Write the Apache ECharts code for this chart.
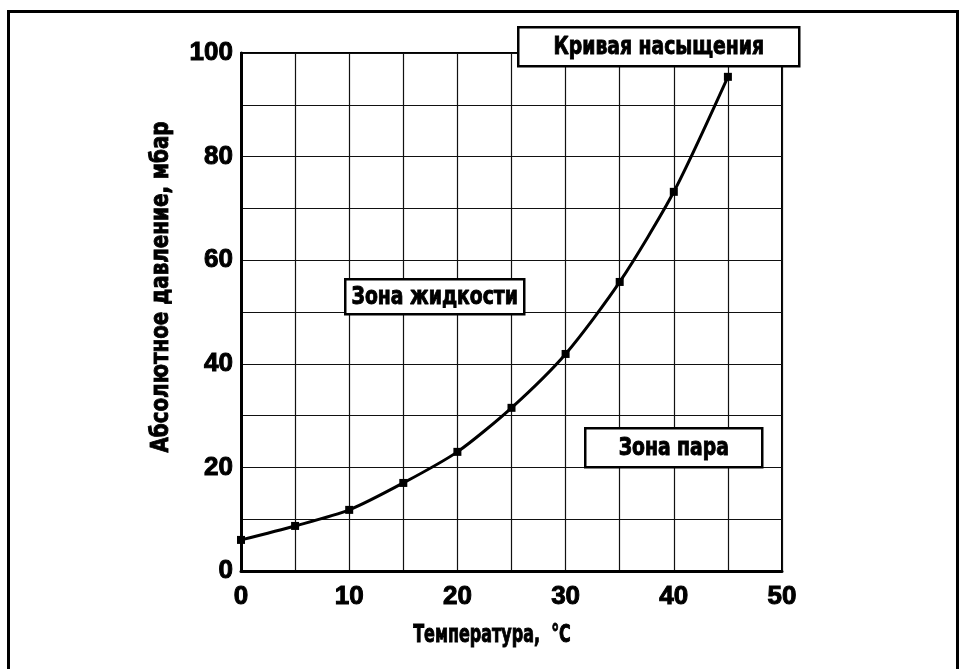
<!DOCTYPE html>
<html>
<head>
<meta charset="utf-8">
<script src="https://cdn.jsdelivr.net/npm/echarts@6/dist/echarts.min.js"></script>
<style>
  html, body { margin: 0; padding: 0; background: #fff; }
  #chart { width: 962px; height: 669px; }
</style>
</head>
<body>
<div id="chart"></div>
<script>
// температура, °C
const temps = [0, 5, 10, 15, 20, 25, 30, 35, 40, 45];
// абсолютное давление насыщения, мбар
const pressure = [6.0, 8.7, 11.8, 17.0, 23.0, 31.5, 41.9, 55.8, 73.2, 95.4];
const xTickLabels = ['0', '10', '20', '30', '40', '50'];
const yTickLabels = ['0', '20', '40', '60', '80', '100'];

const narrow = "'Liberation Sans Narrow', 'DejaVu Sans Condensed', sans-serif";
const digits = "'Liberation Sans', Arial, sans-serif";

const chart = echarts.init(document.getElementById('chart'));

// жирный сжатый текст: шрифт крупнее, сжат по горизонтали
function heavyText(x, y, text, size, sx, rot) {
  return {
    type: 'text', x: x, y: y, rotation: rot || 0, scaleX: sx, scaleY: 1,
    style: {
      text: text, fill: '#000', font: 'bold ' + size + 'px ' + narrow,
      stroke: '#000', lineWidth: 0.9,
      align: 'center', verticalAlign: 'middle'
    },
    z: 11
  };
}

function labelBox(x, y, w, h, text) {
  return {
    type: 'group',
    left: x,
    top: y,
    children: [
      {
        type: 'rect',
        shape: { x: 0, y: 0, width: w, height: h },
        style: { fill: '#fff', stroke: '#000', lineWidth: 2.5 },
        z: 10
      },
      heavyText(w / 2, h / 2 + 1, text, 24, 0.87)
    ]
  };
}

const tickLabelStyle = {
  color: '#000', fontSize: 26, fontWeight: 'bold', fontFamily: digits,
  textBorderColor: '#000', textBorderWidth: 1
};

const option = {
  animation: false,
  backgroundColor: '#fff',
  grid: {
    left: 241, top: 53, right: 180, bottom: 98,
    show: true, borderColor: '#000', borderWidth: 2
  },
  xAxis: {
    type: 'value', min: 0, max: 50, interval: 5,
    axisLine: { show: true, onZero: false, lineStyle: { color: '#000', width: 3 } },
    axisTick: { show: false },
    splitLine: { show: true, lineStyle: { color: '#111', width: 1.2 } },
    axisLabel: Object.assign({
      margin: 13,
      formatter: v => xTickLabels.includes(String(v)) ? String(v) : ''
    }, tickLabelStyle)
  },
  yAxis: {
    type: 'value', min: 0, max: 100, interval: 10,
    axisLine: { show: true, onZero: false, lineStyle: { color: '#000', width: 3 } },
    axisTick: { show: false },
    splitLine: { show: true, lineStyle: { color: '#111', width: 1.2 } },
    axisLabel: Object.assign({
      margin: 8,
      formatter: v => yTickLabels.includes(String(v)) ? String(v) : ''
    }, tickLabelStyle)
  },
  series: [{
    type: 'line',
    data: temps.map((t, i) => [t, pressure[i]]),
    smooth: 0.25,
    symbol: 'rect',
    symbolSize: 8,
    lineStyle: { color: '#000', width: 3 },
    itemStyle: { color: '#000' },
    z: 5
  }],
  graphic: [
    // внешняя рамка
    {
      type: 'rect', left: 6, top: 9,
      shape: { x: 0, y: 0, width: 949, height: 670 },
      style: { fill: null, stroke: '#000', lineWidth: 3 },
      z: -1
    },
    labelBox(517, 26, 281, 39, 'Кривая насыщения'),
    labelBox(344, 278, 179, 35, 'Зона жидкости'),
    labelBox(584, 427, 177, 39, 'Зона пара'),
    heavyText(162, 287, 'Абсолютное давление, мбар', 24, 0.92, Math.PI / 2),
    heavyText(492, 636, 'Температура,  °C', 24, 0.74)
  ]
};

chart.setOption(option);
</script>
</body>
</html>
